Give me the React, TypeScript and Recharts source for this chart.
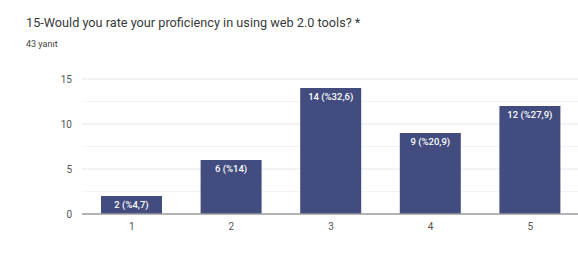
import { Bar, BarChart, CartesianGrid, LabelList, XAxis, YAxis } from "recharts";

const ratings = ["1", "2", "3", "4", "5"];
const counts = [2, 6, 14, 9, 12];
const percents = ["4,7", "14", "32,6", "20,9", "27,9"];
const majorTicks = [0, 5, 10, 15];
const minorTicks = [2.5, 7.5, 12.5];

const data = ratings.map((r, i) => ({
  rating: r,
  count: counts[i],
  label: `${counts[i]} (%${percents[i]})`,
}));

const BarLabel = (props: any) => {
  const { x, y, width, value } = props;
  return (
    <text
      x={x + width / 2}
      y={y + 12}
      textAnchor="middle"
      fill="#fff"
      fontSize={9.5}
      fontWeight={500}
    >
      {value}
    </text>
  );
};

export default function App() {
  return (
    <div
      style={{
        position: "fixed",
        left: 0,
        top: 0,
        width: 578,
        height: 276,
        background: "#fff",
        fontFamily: "Roboto, sans-serif",
        overflow: "hidden",
      }}
    >
      <div style={{ position: "absolute", left: 26, top: 15, fontSize: 12.7, color: "#3a3a3a" }}>
        15-Would you rate your proficiency in using web 2.0 tools? *
      </div>
      <div style={{ position: "absolute", left: 26, top: 39, fontSize: 9, color: "#444" }}>
        43 yanıt
      </div>
      <BarChart
        width={580}
        height={276}
        data={data}
        margin={{ top: 79, right: 0, left: 0, bottom: 32 }}
      >
        <CartesianGrid vertical={false} stroke="#f3f3f3" horizontalValues={minorTicks} />
        <CartesianGrid vertical={false} stroke="#e6e6e6" horizontalValues={majorTicks} />
        <XAxis
          dataKey="rating"
          height={30}
          tickLine={false}
          tickSize={0}
          tickMargin={9}
          axisLine={{ stroke: "#9e9e9e", strokeWidth: 1.5 }}
          tick={{ fontSize: 10, fill: "#555" }}
        />
        <YAxis
          width={82}
          domain={[0, 15]}
          ticks={majorTicks}
          tickLine={false}
          tickSize={0}
          tickMargin={10}
          axisLine={false}
          tick={{ fontSize: 10, fill: "#555" }}
        />
        <Bar dataKey="count" fill="#424c7e" barSize={61} isAnimationActive={false}>
          <LabelList dataKey="label" content={BarLabel} />
        </Bar>
      </BarChart>
    </div>
  );
}
